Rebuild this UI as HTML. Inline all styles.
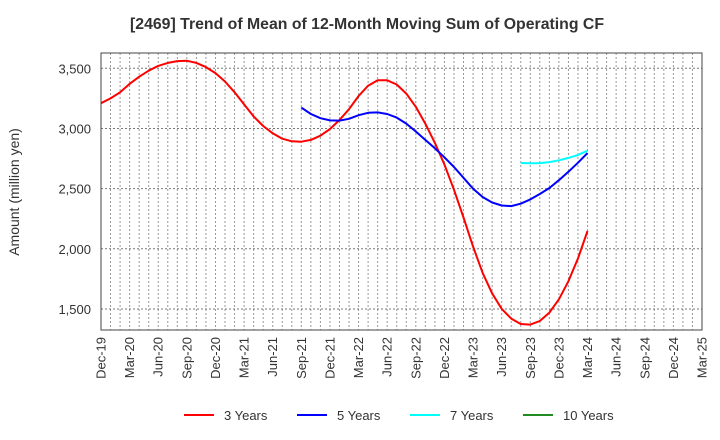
<!DOCTYPE html>
<html><head><meta charset="utf-8"><style>
body{margin:0;background:#fff;}
svg{display:block;font-family:"Liberation Sans",Arial,sans-serif;}
</style></head><body>
<svg id="chart" width="720" height="440" viewBox="0 0 720 440" xmlns="http://www.w3.org/2000/svg">
<text x="130" y="29" textLength="474" lengthAdjust="spacingAndGlyphs" font-size="15.5" font-weight="bold" fill="#333">[2469]  Trend of Mean of 12-Month Moving Sum of Operating CF</text>
<text transform="translate(19,192) rotate(-90)" text-anchor="middle" font-size="14" fill="#333">Amount (million yen)</text>
<g id="grid"></g>
<g id="yticks"></g>
<g id="xticks"></g>
<g id="series"></g>
<rect x="101" y="53" width="601" height="277" fill="none" stroke="#444" stroke-width="1"/>
<g>
<g><line x1="184" y1="415" x2="214" y2="415" stroke="#f00" stroke-width="2"/><text x="224" y="420" font-size="13" fill="#333">3 Years</text></g>
<g><line x1="297" y1="415" x2="327" y2="415" stroke="#00f" stroke-width="2"/><text x="337" y="420" font-size="13" fill="#333">5 Years</text></g>
<g><line x1="410" y1="415" x2="440" y2="415" stroke="#0ff" stroke-width="2"/><text x="450" y="420" font-size="13" fill="#333">7 Years</text></g>
<g><line x1="523" y1="415" x2="553" y2="415" stroke="#228b22" stroke-width="2"/><text x="563" y="420" font-size="13" fill="#333">10 Years</text></g>
</g>
</svg>
<script>
const xLabels=["Dec-19","Mar-20","Jun-20","Sep-20","Dec-20","Mar-21","Jun-21","Sep-21","Dec-21","Mar-22","Jun-22","Sep-22","Dec-22","Mar-23","Jun-23","Sep-23","Dec-23","Mar-24","Jun-24","Sep-24","Dec-24","Mar-25"];
const yTicks=[1500,2000,2500,3000,3500];
const y3Start=0;
const y3=[3210,3250,3300,3370,3430,3480,3520,3545,3560,3562,3545,3510,3460,3390,3300,3200,3100,3020,2960,2915,2893,2890,2905,2940,2995,3070,3160,3270,3355,3400,3400,3365,3290,3180,3040,2880,2700,2490,2260,2020,1800,1630,1500,1420,1375,1370,1400,1470,1580,1730,1920,2148];
const y5Start=21;
const y5=[3173,3120,3085,3067,3065,3080,3110,3130,3133,3120,3090,3040,2975,2905,2835,2760,2680,2590,2500,2430,2385,2360,2355,2375,2410,2455,2505,2570,2640,2715,2795];
const y7Start=44;
const y7=[2713,2710,2712,2720,2735,2755,2780,2815];
const y10=[];

const NS="http://www.w3.org/2000/svg";
const L=101,R=702,T=53,B=330,months=63,yMin=1325,yMax=3627;
const xs=m=>L+(R-L)*m/months;
const ys=v=>B-(v-yMin)/(yMax-yMin)*(B-T);
function mk(tag,attrs,parent){const e=document.createElementNS(NS,tag);for(const k in attrs)e.setAttribute(k,attrs[k]);parent.appendChild(e);return e;}
const grid=document.getElementById('grid');
for(let m=1;m<months;m++){
 const l=mk('line',{x1:xs(m),x2:xs(m),y1:T,y2:B,stroke:'#999','stroke-dasharray':'2,2','stroke-width':1},grid);
 
 
}
const yt=document.getElementById('yticks');
yTicks.forEach(v=>{
 const l=mk('line',{x1:L,x2:R,y1:ys(v),y2:ys(v),stroke:'#777','stroke-dasharray':'2,2','stroke-width':1},grid);
 
 
 const t=mk('text',{x:L-10,y:ys(v)+5,'text-anchor':'end','font-size':13,fill:'#333'},yt);
 t.textContent=v.toLocaleString('en-US');
 
 
});
const xt=document.getElementById('xticks');
xLabels.forEach((s,i)=>{
 const x=xs(i*3);
 const t=mk('text',{transform:`translate(${x+4.5},${B+7}) rotate(-90)`,'text-anchor':'end','font-size':13,fill:'#333'},xt);
 t.textContent=s;
 
 
});
const sg=document.getElementById('series');
function line(arr,start,color,name){
 if(!arr.length)return;
 const pts=arr.map((v,i)=>xs(start+i).toFixed(1)+','+ys(v).toFixed(1)).join(' ');
 const p=mk('polyline',{points:pts,fill:'none',stroke:color,'stroke-width':2,'stroke-linejoin':'round'},sg);
 
 
}
line(y3,y3Start,'#f00','line-3-years');
line(y5,y5Start,'#00f','line-5-years');
line(y7,y7Start,'#0ff','line-7-years');
line(y10,0,'#228b22','line-10-years');
</script>
</body></html>
